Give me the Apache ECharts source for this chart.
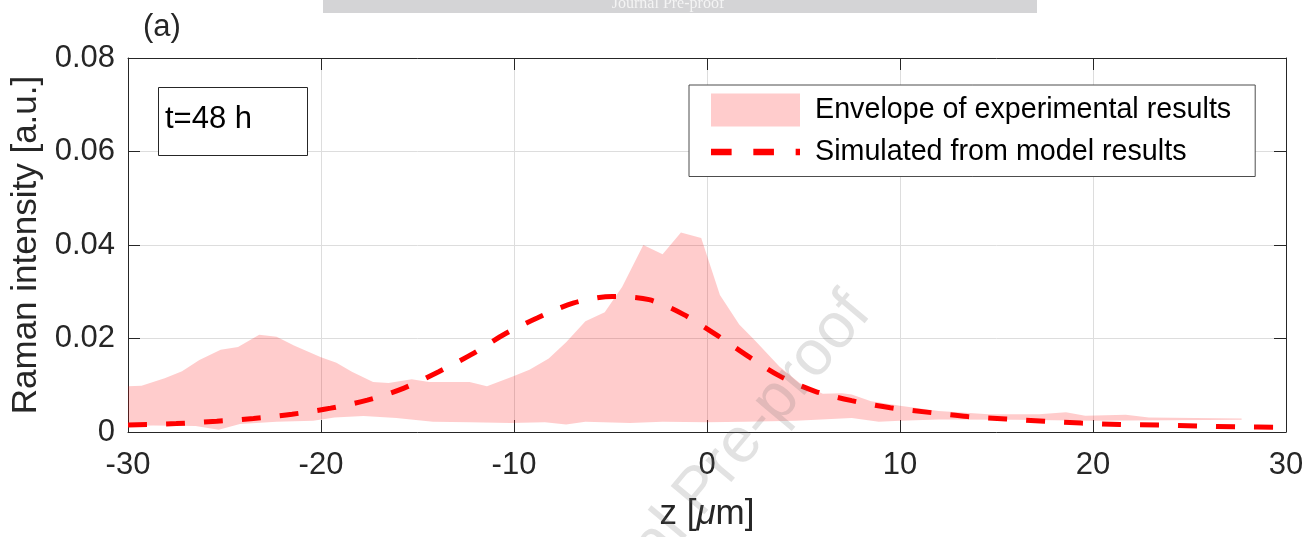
<!DOCTYPE html>
<html>
<head>
<meta charset="utf-8">
<script src="https://cdn.jsdelivr.net/npm/echarts@6/dist/echarts.min.js"></script>
<style>
html,body{margin:0;padding:0;background:#fff;}
#chart{width:1308px;height:537px;}
</style>
</head>
<body>
<div id="chart"></div>
<script>
// ---- data ----
const xTicks = [-30, -20, -10, 0, 10, 20, 30];
const yTicks = [0, 0.02, 0.04, 0.06, 0.08];

const upperZ = [-30, -29.3, -28.1, -27.2, -26.3, -25.2, -24.3, -23.2, -22.3, -21.4, -20, -19.2, -18.4, -17.3, -16.5, -15.3, -14.4, -12.3, -11.4, -10.1, -9.2, -8.2, -7.3, -6.3, -5.3, -4.4, -3.3, -2.3, -1.35, -0.3, 0.67, 1.67, 2.5, 3.75, 4.8, 6.0, 7.0, 7.5, 8.5, 10, 12, 14.6, 17.2, 18.6, 19.6, 21.7, 22.9, 27.7];
const upperVal = [0.0098, 0.0099, 0.0115, 0.0130, 0.0154, 0.0176, 0.0182, 0.0208, 0.0204, 0.0185, 0.0160, 0.0148, 0.0129, 0.0107, 0.0105, 0.0113, 0.0107, 0.0107, 0.0098, 0.0118, 0.0133, 0.0157, 0.0192, 0.0237, 0.0256, 0.0310, 0.0400, 0.0380, 0.0427, 0.0415, 0.0293, 0.0230, 0.0195, 0.0140, 0.0105, 0.0082, 0.0083, 0.0080, 0.0066, 0.0056, 0.0045, 0.0038, 0.0038, 0.0042, 0.0035, 0.0037, 0.0031, 0.0029];

const lowerZ = [-30, -28.7, -26.5, -25.3, -24.2, -22.3, -20.4, -19.3, -17.8, -16.1, -14.2, -12.3, -10.2, -8.4, -7.3, -6.3, -4.0, -2.3, 0, 2.0, 4.6, 7.5, 8.9, 10, 12, 16, 20, 24, 27.7];
const lowerVal = [0.0013, 0.0014, 0.0013, 0.0005, 0.0017, 0.0022, 0.0024, 0.0031, 0.0034, 0.0030, 0.0022, 0.0021, 0.0019, 0.0021, 0.0016, 0.0022, 0.0019, 0.0022, 0.0021, 0.0022, 0.0024, 0.0030, 0.0022, 0.0024, 0.0027, 0.0026, 0.0024, 0.0025, 0.0026];

const simZ = [-30, -27.5, -25.4, -23.5, -21.5, -19.5, -17.6, -15.7, -13.9, -12.2, -10.5, -8.8, -6.9, -4.9, -3.0, -1.2, 0.55, 2.2, 3.8, 5.6, 7.5, 9.5, 11.5, 13.5, 15.5, 17.5, 19.4, 21.4, 23.4, 25.4, 27.4, 30];
const simVal = [0.0015, 0.0018, 0.0023, 0.0029, 0.0038, 0.0051, 0.0068, 0.0094, 0.0129, 0.0166, 0.0209, 0.0244, 0.0276, 0.0290, 0.0283, 0.0251, 0.0206, 0.0160, 0.0119, 0.0087, 0.0067, 0.0052, 0.0042, 0.0033, 0.0028, 0.0023, 0.0019, 0.0016, 0.0015, 0.0013, 0.0011, 0.0010];

const seriesNames = ['Envelope of experimental results', 'Simulated from model results'];
// --------------------------------------

const FONT = "'Liberation Sans', Arial, Helvetica, sans-serif";
const INK = '#262626';
const GRID = '#dddddd';

const upperPts = upperZ.map((z, i) => [z, upperVal[i]]);
const lowerPts = lowerZ.map((z, i) => [z, lowerVal[i]]);
const simPts = simZ.map((z, i) => [z, simVal[i]]);

const xMin = xTicks[0], xMax = xTicks[xTicks.length - 1], xInt = xTicks[1] - xTicks[0];
const yMin = yTicks[0], yMax = yTicks[yTicks.length - 1], yInt = yTicks[1] - yTicks[0];

const yFmt = v => (Math.abs(v) < 1e-12 ? '0' : v.toFixed(2));

const chart = echarts.init(document.getElementById('chart'), null, {renderer: 'canvas'});

const option = {
  animation: false,
  backgroundColor: '#fff',
  textStyle: {fontFamily: FONT},
  grid: {left: 128, right: 22, top: 58, bottom: 97, containLabel: false},
  xAxis: [{
    type: 'value', min: xMin, max: xMax, interval: xInt, position: 'bottom',
    axisLine: {show: true, onZero: false, lineStyle: {color: INK, width: 1}},
    axisTick: {show: true, inside: true, length: 12, lineStyle: {color: INK}},
    axisLabel: {color: INK, fontSize: 31, fontFamily: FONT, margin: 18},
    splitLine: {show: true, lineStyle: {color: GRID, width: 1}},
    name: '{n|z [}{i|\u03bc}{n|m]}', nameLocation: 'middle', nameGap: 65,
    nameTextStyle: {
      rich: {
        n: {fontSize: 35, color: INK, fontFamily: FONT},
        i: {fontSize: 35, color: INK, fontFamily: FONT, fontStyle: 'italic'}
      }
    }
  }, {
    type: 'value', min: xMin, max: xMax, interval: xInt, position: 'top',
    axisLine: {show: true, onZero: false, lineStyle: {color: INK, width: 1}},
    axisTick: {show: true, inside: true, length: 12, lineStyle: {color: INK}},
    axisLabel: {show: false}, splitLine: {show: false}
  }],
  yAxis: [{
    type: 'value', min: yMin, max: yMax, interval: yInt, position: 'left',
    axisLine: {show: true, onZero: false, lineStyle: {color: INK, width: 1}},
    axisTick: {show: true, inside: true, length: 12, lineStyle: {color: INK}},
    axisLabel: {color: INK, fontSize: 31, fontFamily: FONT, margin: 13, formatter: yFmt},
    splitLine: {show: true, lineStyle: {color: GRID, width: 1}},
    name: 'Raman intensity [a.u.]', nameLocation: 'middle', nameGap: 78,
    nameTextStyle: {fontSize: 35, color: INK, fontFamily: FONT}
  }, {
    type: 'value', min: yMin, max: yMax, interval: yInt, position: 'right',
    axisLine: {show: true, onZero: false, lineStyle: {color: INK, width: 1}},
    axisTick: {show: true, inside: true, length: 12, lineStyle: {color: INK}},
    axisLabel: {show: false}, splitLine: {show: false}
  }],
  legend: {
    left: 689, top: 85, orient: 'vertical',
    backgroundColor: '#fff', borderColor: '#4d4d4d', borderWidth: 1,
    padding: [8.5, 24, 10, 22], itemGap: 11,
    itemWidth: 89, itemHeight: 33,
    textStyle: {fontSize: 28.7, color: '#000', fontFamily: FONT, padding: [0, 0, 0, 10]},
    data: [
      {name: seriesNames[0], icon: 'rect', itemStyle: {color: '#ffcccc'}},
      {name: seriesNames[1], icon: 'path://M0,0h19v6h-19zM39,0h19v6h-19zM78,0h4v6h-4z', itemStyle: {color: '#ff0000', borderWidth: 0}}
    ]
  },
  series: [{
    type: 'custom', name: seriesNames[0],
    xAxisIndex: 0, yAxisIndex: 0,
    data: [[upperZ[0], upperVal[0]]],
    itemStyle: {color: '#ffcccc'},
    clip: true, silent: true,
    renderItem: function (params, api) {
      const pts = upperPts.map(p => api.coord(p))
        .concat(lowerPts.slice().reverse().map(p => api.coord(p)));
      return {type: 'polygon', shape: {points: pts}, style: {fill: 'rgba(255,0,0,0.2)', stroke: null}};
    },
    z: 2
  }, {
    type: 'line', name: seriesNames[1],
    xAxisIndex: 0, yAxisIndex: 0,
    data: simPts, symbol: 'none', smooth: 0.3,
    lineStyle: {color: '#ff0000', width: 5, type: [19, 19]},
    itemStyle: {color: '#ff0000'},
    z: 3
  }],
  graphic: [
    {type: 'rect', left: 323, top: 0, shape: {width: 714, height: 13}, style: {fill: '#d4d4d6'}, z: 10},
    {type: 'text', x: 668, y: 4, style: {text: 'Journal Pre-proof', font: "16px 'Liberation Serif', 'Times New Roman', serif", fill: '#f4f4f4', textAlign: 'center', textVerticalAlign: 'middle'}, z: 11},
    {type: 'text', x: 143, y: 27, style: {text: '(a)', font: '31px ' + FONT, fill: INK, textAlign: 'left', textVerticalAlign: 'middle'}, z: 10},
    {type: 'rect', shape: {x: 158.5, y: 87.5, width: 149, height: 68}, style: {fill: '#fff', stroke: INK, lineWidth: 1}, z: 10},
    {type: 'text', x: 165, y: 119, style: {text: 't=48 h', font: '31px ' + FONT, fill: '#000', textAlign: 'left', textVerticalAlign: 'middle'}, z: 11},
    {type: 'text', x: 700, y: 492, rotation: 50 * Math.PI / 180,
      style: {text: 'Journal Pre-proof', font: '64px ' + FONT, fill: 'rgba(110,110,110,0.2)', textAlign: 'center', textVerticalAlign: 'middle'}, z: 50, silent: true}
  ]
};

chart.setOption(option);
</script>
</body>
</html>
